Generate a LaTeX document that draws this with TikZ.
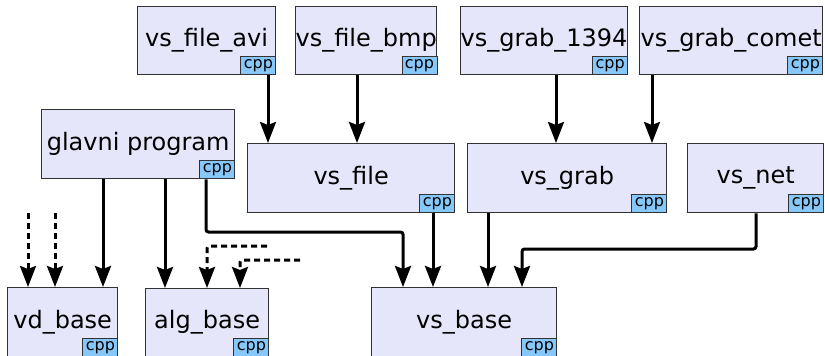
\documentclass[tikz,border=0pt]{standalone}
\usepackage{fontspec}
\setmainfont{DejaVu Sans}
\usetikzlibrary{arrows.meta}
\definecolor{boxfill}{RGB}{230,230,250}
\definecolor{cppfill}{RGB}{135,200,250}
\definecolor{boxline}{RGB}{50,50,50}
\begin{document}
\begin{tikzpicture}[x=1pt,y=-1pt,
  box/.style={draw=boxline, fill=boxfill, line width=1.3pt, inner sep=0pt, anchor=north west, font=\fontsize{24}{26}\selectfont},
  cpp/.style={draw=boxline, fill=cppfill, line width=0.9pt, inner sep=0pt, minimum width=35pt, minimum height=18pt, anchor=south east, font=\fontsize{16}{16}\selectfont},
  arr/.style={line width=3pt, rounded corners=2.5pt, -{Stealth[length=21pt,width=16pt,inset=3pt]}},
  dsh/.style={arr, dash pattern=on 6pt off 4pt}]
\useasboundingbox (0,0) rectangle (825,356);
% boxes
\node[box, minimum width=138pt, minimum height=68pt] (avi) at (137,6) {vs\_file\_avi};
\node[box, minimum width=138pt, minimum height=68pt] (bmp) at (295,6) {vs\_file\_bmp};
\node[box, minimum width=165pt, minimum height=68pt] (g1394) at (460,6) {vs\_grab\_1394};
\node[box, minimum width=183pt, minimum height=68pt] (comet) at (639,6) {vs\_grab\_comet};
\node[box, minimum width=193pt, minimum height=69pt] (glavni) at (41,109) {glavni program};
\node[box, minimum width=207pt, minimum height=69pt] (vsfile) at (247,143) {vs\_file};
\node[box, minimum width=199pt, minimum height=69pt] (vsgrab) at (467,143) {vs\_grab};
\node[box, minimum width=136pt, minimum height=69pt] (vsnet) at (687,143) {vs\_net};
\node[box, minimum width=110pt, minimum height=69pt] (vd) at (7,287) {vd\_base};
\node[box, minimum width=123pt, minimum height=68pt] (alg) at (145,288) {alg\_base};
\node[box, minimum width=185pt, minimum height=69pt] (vsbase) at (371,287) {vs\_base};
% cpp badges
\foreach \n in {avi,bmp,g1394,comet,glavni,vsfile,vsgrab,vsnet,vd,alg,vsbase}
  \node[cpp] (\n cpp) at (\n.south east) {cpp};
% x positions
\coordinate (xa) at (268,0);
\coordinate (xb) at (357,0);
\coordinate (xc) at (556,0);
\coordinate (xd) at (652,0);
\coordinate (xe) at (103,0);
\coordinate (xf) at (165,0);
\coordinate (xg) at (206,0);
\coordinate (xh) at (403,0);
\coordinate (xi) at (433,0);
\coordinate (xj) at (488,0);
\coordinate (xk) at (756,0);
\coordinate (xl) at (522,0);
\coordinate (xm) at (207,0);
\coordinate (xn) at (240,0);
% free ends
\coordinate (d1) at (28,213);
\coordinate (d2) at (55,213);
\coordinate (d3) at (267,246);
\coordinate (d4) at (300,260);
% connectors
\draw[arr] (avi.south -| xa) -- (vsfile.north -| xa);
\draw[arr] (bmp.south -| xb) -- (vsfile.north -| xb);
\draw[arr] (g1394.south -| xc) -- (vsgrab.north -| xc);
\draw[arr] (comet.south -| xd) -- (vsgrab.north -| xd);
\draw[arr] (glavni.south -| xe) -- (vd.north -| xe);
\draw[arr] (glavni.south -| xf) -- (alg.north -| xf);
\draw[arr] (glavni.south -| xg) -- (206,232) -- (403,232) -- (vsbase.north -| xh);
\draw[arr] (vsfile.south -| xi) -- (vsbase.north -| xi);
\draw[arr] (vsgrab.south -| xj) -- (vsbase.north -| xj);
\draw[arr] (vsnet.south -| xk) -- (756,249) -- (522,249) -- (vsbase.north -| xl);
\draw[dsh] (d1) -- (vd.north -| d1);
\draw[dsh] (d2) -- (vd.north -| d2);
\draw[dsh] (d3) -- (207,246) -- (alg.north -| xm);
\draw[dsh] (d4) -- (240,260) -- (alg.north -| xn);
\end{tikzpicture}
\end{document}
